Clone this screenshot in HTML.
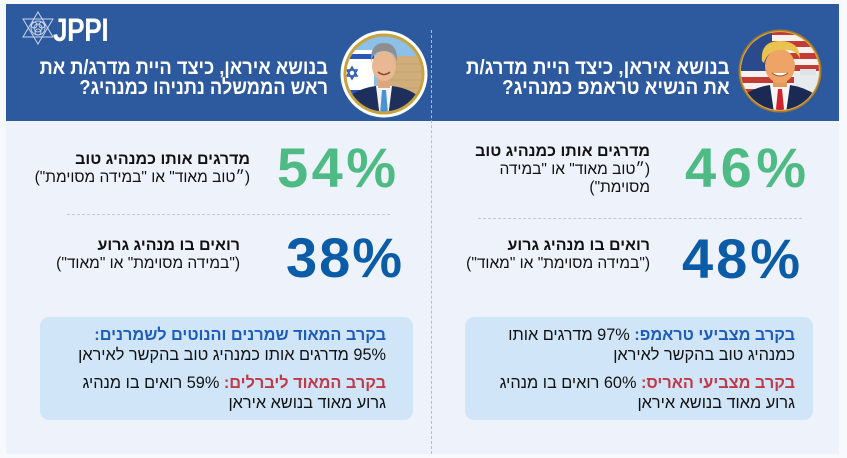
<!DOCTYPE html>
<html lang="he">
<head>
<meta charset="utf-8">
<style>
  html,body{margin:0;padding:0;}
  body{width:847px;height:458px;background:#f8f9fd;position:relative;overflow:hidden;
       font-family:"Liberation Sans","DejaVu Sans",sans-serif;}
  .abs{position:absolute;}
  .card{left:6px;top:4px;width:833px;height:450px;background:#eef2fb;}
  .hdr{left:6px;top:4px;width:833px;height:117px;background:#2d5a9f;}
  .vdiv{left:431px;top:30px;height:424px;width:0;border-left:1px dashed #b7bcc6;}
  .htxt{color:#fff;font-weight:bold;font-size:20.5px;line-height:19.5px;direction:rtl;text-align:right;white-space:nowrap;transform-origin:right top;}
  .big{font-weight:bold;font-size:56px;line-height:56px;letter-spacing:2px;direction:ltr;white-space:nowrap;}
  .green{color:#4fbb84;}
  .blue{color:#0b5ca6;}
  .lbl{direction:rtl;text-align:right;white-space:nowrap;color:#111;font-size:15.5px;line-height:18px;}
  .lbl b{font-size:16px;}
  .hdash{height:0;border-top:1.5px dashed #c5c9d2;}
  .box{background:#d0e6f8;border-radius:9px;}
  .btxt{direction:rtl;text-align:right;white-space:nowrap;color:#111;font-size:16.3px;line-height:20px;}
  .bt{color:#1d5bbd;font-weight:bold;}
  .rt{color:#c13848;font-weight:bold;}
</style>
</head>
<body>
<div class="abs card"></div>
<div class="abs hdr"></div>
<div class="abs vdiv"></div>

<!-- JPPI logo -->
<svg class="abs" style="left:20px;top:11px" width="36" height="34" viewBox="0 0 36 34">
  <g fill="none" stroke="#c9d5ec" stroke-width="1">
    <polygon points="18,1 33,26 3,26"/>
    <polygon points="18,33 33,8 3,8"/>
    <circle cx="18" cy="17" r="7"/>
    <circle cx="18" cy="17" r="4"/>
    <circle cx="14" cy="14" r="3"/>
    <circle cx="22" cy="14" r="3"/>
    <circle cx="18" cy="21" r="3"/>
  </g>
</svg>
<div class="abs" style="left:53px;top:14px;color:#fff;font-weight:bold;font-size:32px;line-height:32px;transform:scaleX(0.82);transform-origin:left top;letter-spacing:-0.5px;">JPPI</div>

<!-- Netanyahu avatar -->
<svg class="abs" style="left:340px;top:30px" width="88" height="88" viewBox="0 0 88 88">
  <defs><clipPath id="c1"><circle cx="44" cy="44" r="37.5"/></clipPath></defs>
  <circle cx="44" cy="44" r="43.5" fill="#ffffff"/>
  <circle cx="44" cy="44" r="40.5" fill="#c9a23d"/>
  <g clip-path="url(#c1)">
    <rect x="0" y="0" width="88" height="88" fill="#8cc0e6"/>
    <rect x="50" y="26" width="40" height="62" fill="#cfae7c"/>
    <g stroke="#b8955f" stroke-width="0.6">
      <line x1="50" y1="34" x2="88" y2="34"/><line x1="50" y1="42" x2="88" y2="42"/>
      <line x1="50" y1="50" x2="88" y2="50"/><line x1="50" y1="58" x2="88" y2="58"/>
    </g>
    <rect x="0" y="20" width="34" height="50" fill="#ffffff"/>
    <rect x="0" y="24" width="34" height="5" fill="#2a56b8"/>
    <rect x="0" y="60" width="34" height="5" fill="#2a56b8"/>
    <polygon points="12,37 17,46 7,46" fill="none" stroke="#2a56b8" stroke-width="1.5"/>
    <polygon points="12,49 17,40 7,40" fill="none" stroke="#2a56b8" stroke-width="1.5"/>
    <path d="M8,88 L10,66 Q20,58 36,56 L52,56 Q68,58 78,66 L82,88 Z" fill="#1e2f5c"/>
    <polygon points="36,56 52,56 48,88 40,88" fill="#f4f4f4"/>
    <polygon points="42,60 46,60 48,84 44,88 40,84" fill="#4a92d4"/>
    <rect x="38" y="46" width="12" height="12" fill="#dca67e"/>
    <ellipse cx="44" cy="36" rx="12" ry="15" fill="#e8b892"/>
    <path d="M31,32 Q30,13 44,13 Q58,13 57,32 Q55,21 44,21 Q33,21 31,32 Z" fill="#8e8e92"/>
    <path d="M38,42 Q44,47 50,42" fill="none" stroke="#8a4a3a" stroke-width="1.5"/>
  </g>
</svg>

<!-- Trump avatar -->
<svg class="abs" style="left:738px;top:29px" width="84" height="84" viewBox="0 0 84 84">
  <defs><clipPath id="c2"><circle cx="42" cy="42" r="39"/></clipPath></defs>
  <circle cx="42" cy="42" r="41.5" fill="#a67a2a"/>
  <circle cx="42" cy="42" r="40" fill="#d6a843"/>
  <g clip-path="url(#c2)">
    <rect x="0" y="0" width="84" height="84" fill="#f4f1ee"/>
    <g fill="#c23b35">
      <rect x="0" y="0" width="84" height="6"/><rect x="0" y="12" width="84" height="6"/>
      <rect x="0" y="24" width="84" height="6"/><rect x="0" y="36" width="84" height="6"/>
      <rect x="0" y="48" width="84" height="6"/><rect x="0" y="60" width="84" height="6"/>
    </g>
    <rect x="0" y="0" width="34" height="42" fill="#2b4a8c"/>
    <rect x="56" y="44" width="28" height="30" fill="#e7ebee"/>
    <rect x="62" y="40" width="16" height="6" fill="#dfe3e6"/>
    <path d="M4,84 L6,66 Q18,58 32,56 L52,56 Q66,58 78,66 L80,84 Z" fill="#1b2a52"/>
    <polygon points="32,56 52,56 48,84 36,84" fill="#f5f5f5"/>
    <polygon points="40,60 44,60 46,80 42,84 38,80" fill="#d0232c"/>
    <rect x="35" y="46" width="14" height="12" fill="#e39a5c"/>
    <ellipse cx="42" cy="37" rx="15" ry="17" fill="#eda466"/>
    <path d="M24,32 Q22,12 42,12 Q62,12 62,30 Q58,20 46,21 Q30,20 26,34 Z" fill="#e9c24f"/>
    <path d="M34,44 Q42,50 50,44" fill="#ffffff" stroke="#9a4a2a" stroke-width="1"/>
  </g>
</svg>

<!-- Header texts -->
<div class="abs htxt" style="right:519px;top:58px;transform:scaleX(0.89);">בנושא איראן, כיצד היית מדרג/ת את<br>ראש הממשלה נתניהו כמנהיג?</div>
<div class="abs htxt" style="right:117px;top:58px;transform:scaleX(0.91);">בנושא איראן, כיצד היית מדרג/ת<br>את הנשיא טראמפ כמנהיג?</div>

<!-- Left panel stats -->
<div class="abs big green" style="left:277px;top:140px;letter-spacing:3.5px;">54%</div>
<div class="abs lbl" style="right:597px;top:151px;"><b>מדרגים אותו כמנהיג טוב</b><br>(״טוב מאוד" או "במידה מסוימת")</div>
<div class="abs hdash" style="left:67px;top:214px;width:323px;"></div>
<div class="abs big blue" style="left:286px;top:230px;">38%</div>
<div class="abs lbl" style="right:607px;top:237px;"><b>רואים בו מנהיג גרוע</b><br>("במידה מסוימת" או "מאוד")</div>

<!-- Right panel stats -->
<div class="abs big green" style="left:685px;top:140px;letter-spacing:4.5px;">46%</div>
<div class="abs lbl" style="right:197px;top:143px;"><b>מדרגים אותו כמנהיג טוב</b><br>(״טוב מאוד" או "במידה<br>מסוימת")</div>
<div class="abs hdash" style="left:478px;top:218px;width:324px;"></div>
<div class="abs big blue" style="left:682px;top:231px;letter-spacing:3px;">48%</div>
<div class="abs lbl" style="right:197px;top:237px;"><b>רואים בו מנהיג גרוע</b><br>("במידה מסוימת" או "מאוד")</div>

<!-- Boxes -->
<div class="abs box" style="left:40px;top:317px;width:373px;height:103px;"></div>
<div class="abs btxt" style="right:461px;top:325px;"><span class="bt">בקרב המאוד שמרנים והנוטים לשמרנים:</span><br>95% מדרגים אותו כמנהיג טוב בהקשר לאיראן</div>
<div class="abs btxt" style="right:461px;top:373px;"><span class="rt">בקרב המאוד ליברלים:</span> 59% רואים בו מנהיג<br>גרוע מאוד בנושא איראן</div>

<div class="abs box" style="left:465px;top:317px;width:348px;height:103px;"></div>
<div class="abs btxt" style="right:52px;top:325px;"><span class="bt">בקרב מצביעי טראמפ:</span> 97% מדרגים אותו<br>כמנהיג טוב בהקשר לאיראן</div>
<div class="abs btxt" style="right:52px;top:373px;"><span class="rt">בקרב מצביעי האריס:</span> 60% רואים בו מנהיג<br>גרוע מאוד בנושא איראן</div>
</body>
</html>
